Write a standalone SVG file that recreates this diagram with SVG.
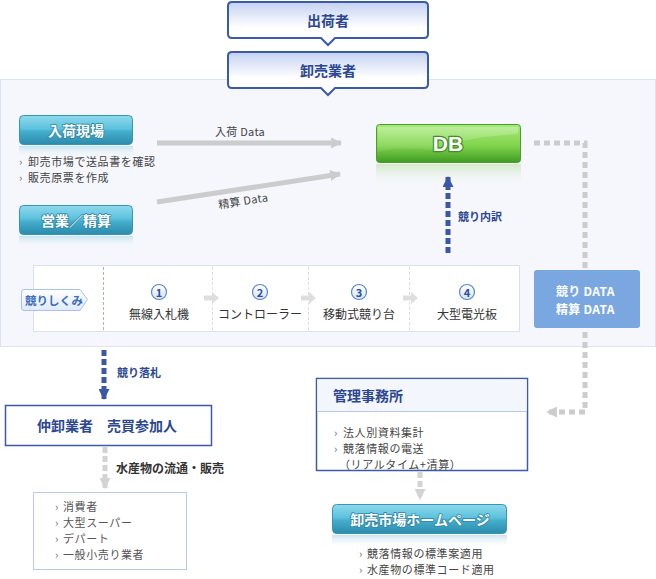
<svg xmlns="http://www.w3.org/2000/svg" width="656" height="579" viewBox="0 0 656 579">
<defs>
<linearGradient id="gBox" x1="0" y1="0" x2="0" y2="1">
<stop offset="0" stop-color="#c3d1f1"/><stop offset="0.6" stop-color="#ffffff"/><stop offset="1" stop-color="#ffffff"/>
</linearGradient>
<linearGradient id="gTeal" x1="0" y1="0" x2="0" y2="1">
<stop offset="0" stop-color="#8fd9ec"/><stop offset="0.45" stop-color="#5cc2dd"/><stop offset="0.55" stop-color="#45aecd"/><stop offset="1" stop-color="#2b8aab"/>
</linearGradient>
<linearGradient id="gTealRef" x1="0" y1="0" x2="0" y2="1">
<stop offset="0" stop-color="#b9dfec" stop-opacity="0.8"/><stop offset="1" stop-color="#f5f7fc" stop-opacity="0"/>
</linearGradient>
<linearGradient id="gGreen" x1="0" y1="0" x2="0" y2="1">
<stop offset="0" stop-color="#a6ea77"/><stop offset="0.55" stop-color="#82d44d"/><stop offset="1" stop-color="#3e9c20"/>
</linearGradient>
<linearGradient id="gGreenRef" x1="0" y1="0" x2="0" y2="1">
<stop offset="0" stop-color="#cfe8c2" stop-opacity="0.9"/><stop offset="1" stop-color="#f5f7fc" stop-opacity="0"/>
</linearGradient>
<linearGradient id="gTag" x1="0" y1="0" x2="0" y2="1">
<stop offset="0" stop-color="#ffffff"/><stop offset="1" stop-color="#dfeaf9"/>
</linearGradient>
<linearGradient id="gCirc" x1="0" y1="0" x2="0" y2="1">
<stop offset="0" stop-color="#ffffff"/><stop offset="1" stop-color="#d6e3f7"/>
</linearGradient>
<linearGradient id="gGloss" x1="0" y1="0" x2="0" y2="1">
<stop offset="0" stop-color="#ffffff" stop-opacity="0.55"/><stop offset="1" stop-color="#ffffff" stop-opacity="0.1"/>
</linearGradient>
<marker id="ahGray" viewBox="0 0 10 10" refX="9" refY="5" markerWidth="2.2" markerHeight="2.2" orient="auto" markerUnits="strokeWidth">
<path d="M0,0 L10,5 L0,10 Z" fill="#cccccc"/>
</marker>
<marker id="ahLight" viewBox="0 0 10 10" refX="9" refY="5" markerWidth="2.2" markerHeight="2.2" orient="auto" markerUnits="strokeWidth">
<path d="M0,0 L10,5 L0,10 Z" fill="#d3d3d3"/>
</marker>
<marker id="ahBlue" viewBox="0 0 10 10" refX="9" refY="5" markerWidth="2.4" markerHeight="2.2" orient="auto" markerUnits="strokeWidth">
<path d="M0,0 L10,5 L0,10 Z" fill="#3a58a6"/>
</marker>
</defs>
<style>
text{font-family:"Noto Sans CJK JP","Noto Sans",sans-serif;dominant-baseline:central}
.ttl{font-size:14px;font-weight:bold;fill:#2b4791;text-anchor:middle}
.btn{font-size:14px;font-weight:bold;fill:#ffffff;text-anchor:middle;stroke:#2e86a6;stroke-width:1.6px;paint-order:stroke;stroke-linejoin:round}
.body{font-size:11px;letter-spacing:0.6px;fill:#444444}
.bul{font-size:11px;fill:#666666}
.lbl{font-size:11px;font-weight:bold;fill:#2b4791}
.dat{font-size:11px;letter-spacing:0.3px;fill:#444444;text-anchor:middle}
.stp{font-size:12px;fill:#333333;text-anchor:middle}
.num{font-size:11px;font-weight:bold;fill:#2c4da0;text-anchor:middle}
.sep{stroke:#dddddd;stroke-width:1;stroke-dasharray:3 2}
.tealbtn{fill:url(#gTeal);stroke:#3597b8;stroke-width:1}
.gline{fill:none;stroke:#cccccc;stroke-width:5}
.lline{fill:none;stroke:#d3d3d3;stroke-width:5;stroke-dasharray:6 3}
.bline{fill:none;stroke:#3a58a6;stroke-width:5;stroke-dasharray:6 3}
.framed{fill:#ffffff;stroke:#3b5aa8;stroke-width:1.5}
.wd{font-size:12px;font-weight:bold;fill:#ffffff;letter-spacing:0.3px}
</style>

<!-- background panel -->
<rect x="0.5" y="79.5" width="655" height="267" fill="#f5f7fc" stroke="#dae4f5"/>

<g id="node-shukkasha">
<path d="M232,2 H424 Q428,2 428,6 V34 Q428,38 424,38 H335 L328,45 L321,38 H232 Q228,38 228,34 V6 Q228,2 232,2 Z" fill="url(#gBox)" stroke="#3a59a8" stroke-width="2"/>
<text class="ttl" x="328" y="20">出荷者</text>
</g>
<g id="node-oroshiuri">
<path d="M232,52 H424 Q428,52 428,56 V84 Q428,88 424,88 H335 L328,95 L321,88 H232 Q228,88 228,84 V56 Q228,52 232,52 Z" fill="url(#gBox)" stroke="#3a59a8" stroke-width="2"/>
<text class="ttl" x="328" y="70">卸売業者</text>
</g>

<g id="node-nyuka">
<rect x="19" y="146" width="114" height="11" fill="url(#gTealRef)"/>
<rect class="tealbtn" x="19.5" y="115.5" width="113" height="29" rx="4"/>
<text class="btn" x="76" y="130">入荷現場</text>
<text class="bul" x="19" y="161">›</text>
<text class="body" x="28" y="161">卸売市場で送品書を確認</text>
<text class="bul" x="19" y="177">›</text>
<text class="body" x="28" y="177">販売原票を作成</text>
</g>

<g id="node-eigyo">
<rect x="19" y="236" width="114" height="11" fill="url(#gTealRef)"/>
<rect class="tealbtn" x="19.5" y="205.5" width="113" height="29" rx="4"/>
<text class="btn" x="76" y="220">営業／精算</text>
</g>

<g id="node-db">
<rect x="376" y="164" width="145" height="22" fill="url(#gGreenRef)"/>
<rect x="376.5" y="124.5" width="144" height="38" rx="3" fill="url(#gGreen)" stroke="#4a9e2a"/>
<path d="M378,127 H518 V134 Q470,136 430,150 Q400,146 378,152 Z" fill="url(#gGloss)" opacity="0.5"/>
<text x="448" y="143" text-anchor="middle" style="font-family:'Liberation Sans',sans-serif;font-size:21px;font-weight:bold;fill:#ffffff;stroke:#3f8f22;stroke-width:2.5px;paint-order:stroke;stroke-linejoin:round">DB</text>
</g>

<g id="node-shikumi">
<rect x="33.5" y="265.5" width="486" height="66" fill="#ffffff" stroke="#d6e0f2"/>
<path d="M24,289.5 H80 L87.5,299.5 L80,310.5 H24 Q21.5,310.5 21.5,308 V292 Q21.5,289.5 24,289.5 Z" fill="url(#gTag)" stroke="#a8c3e8"/>
<text x="25" y="300" style="font-size:11.5px;font-weight:bold;fill:#3a6cc0">競りしくみ</text>
<line x1="103.5" y1="267" x2="103.5" y2="330" stroke="#a5b3d2" stroke-dasharray="3 2"/>
<line class="sep" x1="212.5" y1="267" x2="212.5" y2="330"/>
<line class="sep" x1="308.5" y1="267" x2="308.5" y2="330"/>
<line class="sep" x1="409.5" y1="267" x2="409.5" y2="330"/>
<g fill="#dedede">
<path d="M204,295.5 H212 V292 L219,298 L212,304 V300.5 H204 Z"/>
<path d="M301,295.5 H309 V292 L316,298 L309,304 V300.5 H301 Z"/>
<path d="M403,295.5 H411 V292 L418,298 L411,304 V300.5 H403 Z"/>
</g>
<g fill="url(#gCirc)" stroke="#5b86cc" stroke-width="1.2">
<circle cx="159" cy="292" r="7.5"/>
<circle cx="260" cy="292" r="7.5"/>
<circle cx="359" cy="292" r="7.5"/>
<circle cx="467" cy="292" r="7.5"/>
</g>
<text class="num" x="159" y="292">1</text>
<text class="num" x="260" y="292">2</text>
<text class="num" x="359" y="292">3</text>
<text class="num" x="467" y="292">4</text>
<text class="stp" x="159" y="313">無線入札機</text>
<text class="stp" x="260" y="313">コントローラー</text>
<text class="stp" x="359" y="313">移動式競り台</text>
<text class="stp" x="467" y="313">大型電光板</text>
</g>

<g id="connectors">
<line class="gline" x1="157" y1="143" x2="341" y2="143" marker-end="url(#ahGray)"/>
<line class="gline" x1="157" y1="202" x2="340" y2="174" marker-end="url(#ahGray)"/>
<text class="dat" x="240" y="131">入荷 Data</text>
<text class="dat" x="243" y="200" transform="rotate(-8.7 243 200)">精算 Data</text>
<line class="bline" x1="448" y1="253" x2="448" y2="177" marker-end="url(#ahBlue)"/>
<text class="lbl" x="458" y="216">競り内訳</text>
<path class="gline" d="M534,143 H585 V412 H547" stroke-dasharray="6 4" marker-end="url(#ahGray)"/>
<line class="bline" x1="104" y1="350" x2="104" y2="399" marker-end="url(#ahBlue)"/>
<text class="lbl" x="117" y="372">競り落札</text>
<line class="lline" x1="105" y1="447" x2="105" y2="488" marker-end="url(#ahLight)"/>
<text x="116" y="467" style="font-size:12px;font-weight:bold;fill:#333333">水産物の流通・販売</text>
<line class="lline" x1="420" y1="472" x2="420" y2="499" marker-end="url(#ahLight)"/>
</g>

<g id="node-seri-data">
<rect x="534" y="270" width="106" height="58" rx="3" fill="#7ba7e1"/>
<text class="wd" x="556" y="290">競り DATA</text>
<text class="wd" x="556" y="308">精算 DATA</text>
</g>

<g id="node-nakaoroshi">
<rect class="framed" x="5.5" y="405.5" width="206" height="40"/>
<text class="ttl" x="107" y="425">仲卸業者　売買参加人</text>
</g>

<g id="node-consumers">
<rect x="33.5" y="492.5" width="153" height="77" fill="#ffffff" stroke="#b7c9f0"/>
<text class="bul" x="55" y="506">›</text><text class="body" x="63" y="506" style="fill:#555555">消費者</text>
<text class="bul" x="55" y="522">›</text><text class="body" x="63" y="522" style="fill:#555555">大型スーパー</text>
<text class="bul" x="55" y="538">›</text><text class="body" x="63" y="538" style="fill:#555555">デパート</text>
<text class="bul" x="55" y="554">›</text><text class="body" x="63" y="554" style="fill:#555555">一般小売り業者</text>
</g>

<g id="node-kanri">
<rect class="framed" x="316.5" y="378.5" width="211" height="92"/>
<rect x="317.3" y="379.3" width="209.4" height="32" fill="#f3f6fc"/>
<line x1="317" y1="411.5" x2="527" y2="411.5" stroke="#b6c8ee"/>
<text x="333" y="395" style="font-size:14px;font-weight:bold;fill:#2b4791">管理事務所</text>
<text class="bul" x="334" y="432">›</text><text class="body" x="343" y="432">法人別資料集計</text>
<text class="bul" x="334" y="448">›</text><text class="body" x="343" y="448">競落情報の電送</text>
<text class="body" x="339" y="464">（リアルタイム+清算）</text>
</g>

<g id="node-homepage">
<rect x="332" y="535" width="175" height="12" fill="url(#gTealRef)"/>
<rect class="tealbtn" x="332.5" y="504.5" width="174" height="29" rx="4"/>
<text class="btn" x="420" y="519">卸売市場ホームページ</text>
<text class="bul" x="359" y="553">›</text><text class="body" x="367" y="553">競落情報の標準案適用</text>
<text class="bul" x="359" y="569">›</text><text class="body" x="367" y="569">水産物の標準コード適用</text>
</g>
</svg>
